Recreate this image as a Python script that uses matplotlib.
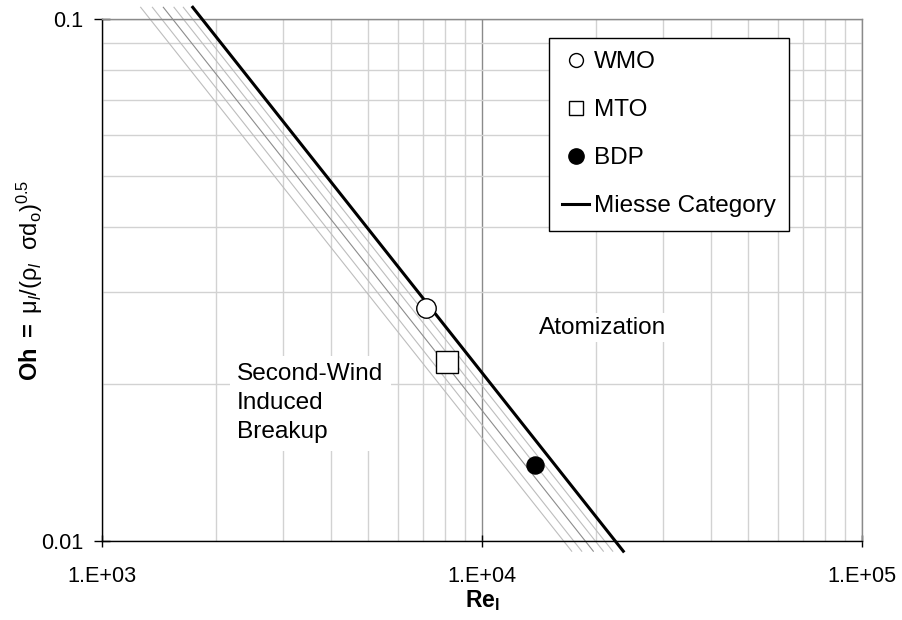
import numpy as np
import matplotlib
matplotlib.use("Agg")
import matplotlib.pyplot as plt
from matplotlib.ticker import FixedLocator, FixedFormatter, LogLocator, NullFormatter
from matplotlib.lines import Line2D

plt.rcParams['font.family'] = ['Liberation Sans', 'DejaVu Sans']
plt.rcParams['mathtext.fontset'] = 'custom'
plt.rcParams['mathtext.rm'] = 'Liberation Sans'
plt.rcParams['mathtext.it'] = 'Liberation Sans:italic'
plt.rcParams['mathtext.bf'] = 'Liberation Sans:bold'

# measured points
names = ["WMO", "MTO", "BDP"]
re_pts = [7120, 8100, 13790]
oh_pts = [0.0280, 0.0220, 0.0140]

# line end points (all lines share the same Oh ends)
oh_ends = [0.1053, 0.00956]
miesse_re = [1733, 23540]
band_re_lo = [1264, 1357, 1450, 1547, 1637]
band_re_hi = [17220, 18300, 19630, 20860, 22080]

x_ticks = [1e3, 1e4, 1e5]
x_labels = ["1.E+03", "1.E+04", "1.E+05"]
y_ticks = [0.01, 0.1]
y_labels = ["0.01", "0.1"]

fig = plt.figure(figsize=(9.02, 6.2), dpi=100)
ax = fig.add_axes([102/902, 1-541/620, 760/902, 522/620])
ax.set_xscale('log')
ax.set_yscale('log')
ax.set_xlim(1e3, 1e5)
ax.set_ylim(0.01, 0.1)

ax.set_axisbelow(True)
ax.grid(True, which='minor', color='#d2d2d2', lw=1.0)
ax.grid(True, which='major', color='#8a8a8a', lw=1.0)

for i in range(len(band_re_lo)):
    c = '#8c8c8c' if i == 2 else '#bdbdbd'
    ax.plot([band_re_lo[i], band_re_hi[i]], oh_ends, color=c, lw=0.8, clip_on=False, zorder=2)

ax.plot(miesse_re, oh_ends, color='black', lw=2.2, clip_on=False, zorder=3)

ax.plot(re_pts[0], oh_pts[0], 'o', ms=14, mfc='white', mec='black', mew=1.0, zorder=4)
ax.plot(re_pts[1], oh_pts[1], 's', ms=15.3, mfc='white', mec='black', mew=1.0, zorder=4)
ax.plot(re_pts[2], oh_pts[2], 'o', ms=12.3, mfc='black', mec='black', mew=1.0, zorder=4)

ax.text(2266, 0.0219, "Second-Wind\nInduced\nBreakup", fontsize=17.6, va='top', ha='left',
        linespacing=1.41, zorder=2,
        bbox=dict(facecolor='white', edgecolor='none', boxstyle='square,pad=0.3'))
ax.text(14125, 0.0269, "Atomization", fontsize=17.6, va='top', ha='left', zorder=2,
        bbox=dict(facecolor='white', edgecolor='none', boxstyle='square,pad=0.15'))

handles = [
    Line2D([], [], marker='o', ls='none', ms=10, mfc='white', mec='black', mew=1.0),
    Line2D([], [], marker='s', ls='none', ms=10.5, mfc='white', mec='black', mew=1.0),
    Line2D([], [], marker='o', ls='none', ms=11, mfc='black', mec='black', mew=1.0),
    Line2D([], [], color='black', lw=2.2),
]
leg = ax.legend(handles, names + ["Miesse Category"], fontsize=17.5, loc='upper left',
                bbox_to_anchor=(549/902, 1-38/620), bbox_transform=fig.transFigure,
                borderaxespad=0, borderpad=0.55, handlelength=1.1, handletextpad=0.2,
                labelspacing=1.07, fancybox=False, framealpha=1, edgecolor='black')
leg.get_frame().set_linewidth(1.0)

ax.xaxis.set_major_locator(FixedLocator(x_ticks))
ax.xaxis.set_major_formatter(FixedFormatter(x_labels))
ax.yaxis.set_major_locator(FixedLocator(y_ticks))
ax.yaxis.set_major_formatter(FixedFormatter(y_labels))
ax.xaxis.set_minor_locator(LogLocator(base=10, subs=np.arange(2, 10), numticks=20))
ax.yaxis.set_minor_locator(LogLocator(base=10, subs=np.arange(2, 10), numticks=20))
ax.xaxis.set_minor_formatter(NullFormatter())
ax.yaxis.set_minor_formatter(NullFormatter())
ax.tick_params(which='minor', length=0)
ax.tick_params(axis='x', which='major', direction='inout', length=9, width=1, labelsize=15.6, pad=13.5)
ax.tick_params(axis='y', which='major', direction='inout', length=11, width=1, labelsize=15.6, pad=8.2)

for s in ['left', 'bottom']:
    ax.spines[s].set_color('black')
    ax.spines[s].set_linewidth(1.0)
for s in ['top', 'right']:
    ax.spines[s].set_color('#8a8a8a')
    ax.spines[s].set_linewidth(1.0)

ax.set_xlabel('$\\mathbf{Re}_{\\mathbf{l}}$', fontsize=16.5)
ax.xaxis.set_label_coords(0.5, -0.09)
ax.set_ylabel('$\\mathbf{Oh\\ =}$ μ$_{\\mathit{l}}$/(ρ$_{\\mathit{l}}$  σd$_{\\mathrm{o}}$)$^{0.5}$', fontsize=17)
ax.yaxis.set_label_coords(-0.075, 0.5)

fig.savefig('out.png', dpi=100)
